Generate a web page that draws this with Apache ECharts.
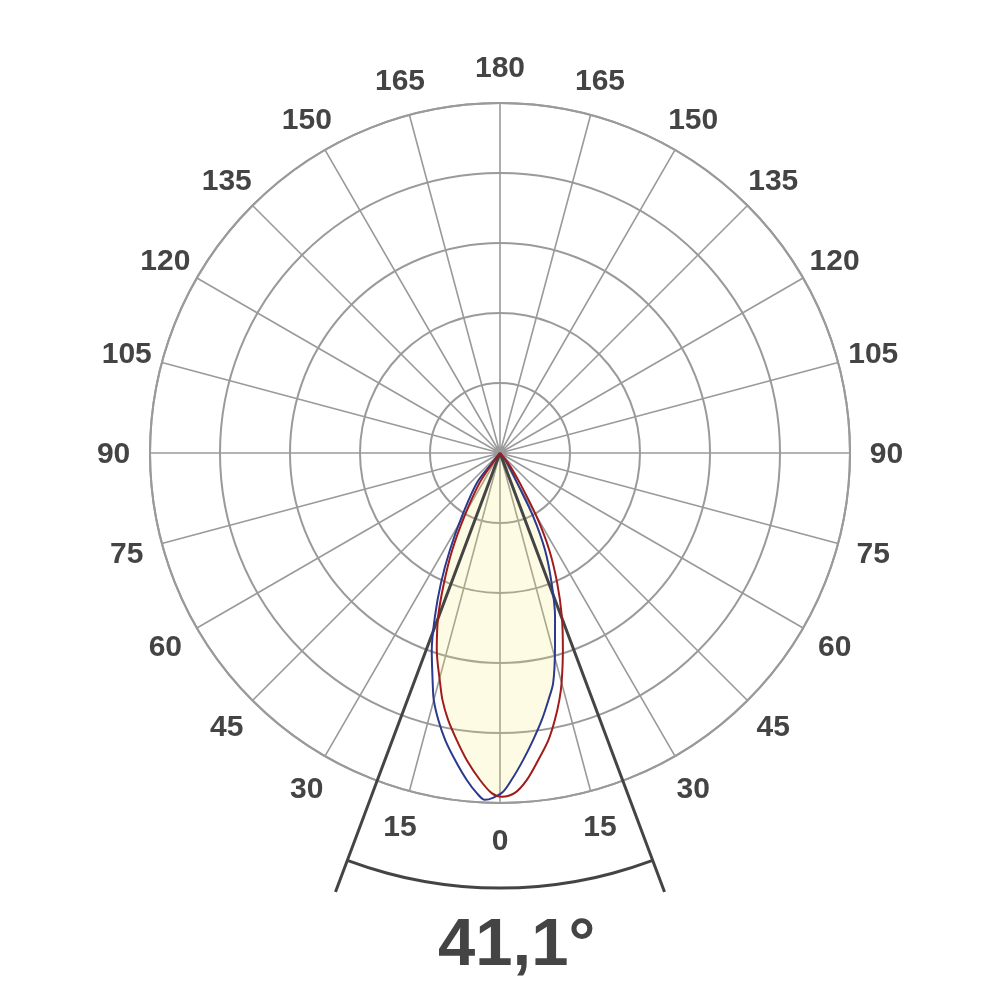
<!DOCTYPE html>
<html><head><meta charset="utf-8">
<script src="https://cdn.jsdelivr.net/npm/echarts@6/dist/echarts.min.js"></script>
<style>html,body{margin:0;padding:0;background:#fff}#c{width:1000px;height:1000px}</style>
</head><body><div id="c"></div>
<script>
// Angles: signed degrees from nadir, positive = left half. Values: relative intensity, 100 = outer ring.
const blueAngles = [-40,-35.3,-29.7,-27.6,-24.9,-21.6,-18.6,-15.6,-13.0,-11.1,-8.9,-6.6,-4.3,-2.0,-0.3,
                    2.5,3.9,5.8,8.3,10.8,13.0,15.0,16.3,19.1,21.7,24.4,27.3,31.0,37.6,38.9,42];
const blueValues = [0,3.6,10.0,20.5,30.5,40.1,49.3,58.4,67.5,71.9,77.2,82.5,88.0,93.5,97.1,
                    99.2,97.4,93.9,88.7,83.5,78.3,73.1,68.5,59.6,50.3,40.9,31.2,21.2,10.9,3.8,0];
const redAngles  = [-42,-38.9,-33.4,-29.9,-26.9,-23.7,-20.7,-17.7,-15.0,-13.5,-11.6,-9.6,-7.1,-4.7,-2.5,-0.3,
                    1.4,3.5,6.2,8.6,11.0,13.1,14.6,17.8,20.7,23.3,26.2,29.3,34.3,36.0,40];
const redValues  = [0,3.8,10.4,21.0,31.1,40.7,50.0,59.1,68.0,72.6,77.9,83.1,88.4,93.7,97.2,98.2,
                    97.2,93.6,88.2,82.9,77.7,72.5,67.9,59.1,50.0,40.5,30.9,20.9,10.5,3.5,0];
const crossAngle = 0, crossValue = 98.0;   // where the two curves cross at the bottom
const tickAngles = [0,15,30,45,60,75,90,105,120,135,150,165,180,195,210,225,240,255,270,285,300,315,330,345];
const tickLabels = ['0','15','30','45','60','75','90','105','120','135','150','165','180','165','150','135','120','105','90','75','60','45','30','15'];
const beamAngle = 41.1;
const beamText = '41,1°';
const half = beamAngle / 2;
const arcAngles = [-half,-15,-10,-5,0,5,10,15,half];
const arcRadius = 124.3, beamLineLen = 134, labelRadius = 110.4;

const toAng = a => (a + 360) % 360;
const pairs = (vals, angs) => vals.map((v, i) => [v, toAng(angs[i])]);
// filled area = inner envelope: blue on the right half, red on the left half
const fillData = []
  .concat(blueValues.map((v, i) => [v, blueAngles[i]]).filter(p => p[1] < -1))
  .concat([[crossValue, crossAngle]])
  .concat(redValues.map((v, i) => [v, redAngles[i]]).filter(p => p[1] > 1))
  .map(p => [p[0], toAng(p[1])]);

const chart = echarts.init(document.getElementById('c'), null, {renderer: 'canvas'});
const grid = '#9a9a9a';
const hiddenAxis = {axisLine: {show: false}, axisTick: {show: false}, axisLabel: {show: false}, splitLine: {show: false}};
chart.setOption({
  animation: false,
  backgroundColor: '#fff',
  title: {
    text: beamText, left: 438, top: 913, padding: 0,
    textStyle: {fontSize: 67, fontWeight: 'bold', fontFamily: 'Liberation Sans', color: '#444'}
  },
  polar: [{center: [500, 453], radius: 350}, {center: [500, 453], radius: 469}],
  angleAxis: [{
    polarIndex: 0, type: 'value', min: 0, max: 360, interval: 15, startAngle: 270, clockwise: true,
    axisLine: {show: true, lineStyle: {color: grid, width: 2}},
    axisTick: {show: false}, axisLabel: {show: false},
    splitLine: {show: true, lineStyle: {color: grid, width: 1.6}}
  }, Object.assign({polarIndex: 1, type: 'value', min: 0, max: 360, interval: 15, startAngle: 270, clockwise: true}, hiddenAxis)],
  radiusAxis: [{
    polarIndex: 0, type: 'value', min: 0, max: 100, interval: 20,
    axisLine: {show: false}, axisTick: {show: false}, axisLabel: {show: false},
    splitLine: {show: true, lineStyle: {color: grid, width: 2}}
  }, Object.assign({polarIndex: 1, type: 'value', min: 0, max: beamLineLen}, hiddenAxis)],
  series: [
    {type: 'line', coordinateSystem: 'polar', polarIndex: 1, showSymbol: false, silent: true,
     lineStyle: {color: '#444', width: 3}, data: [[0, toAng(half)], [beamLineLen, toAng(half)]]},
    {type: 'line', coordinateSystem: 'polar', polarIndex: 1, showSymbol: false, silent: true,
     lineStyle: {color: '#444', width: 3}, data: [[0, toAng(-half)], [beamLineLen, toAng(-half)]]},
    {type: 'line', coordinateSystem: 'polar', polarIndex: 1, showSymbol: false, silent: true, smooth: true,
     lineStyle: {color: '#444', width: 3}, data: arcAngles.map(a => [arcRadius, toAng(a)])},
    {type: 'line', coordinateSystem: 'polar', showSymbol: false, silent: true, smooth: 0.3,
     lineStyle: {width: 0, opacity: 0}, areaStyle: {color: 'rgba(249,232,107,0.18)', opacity: 1},
     data: fillData},
    {type: 'line', coordinateSystem: 'polar', showSymbol: false, silent: true, smooth: 0.3,
     lineStyle: {color: '#2b3a8c', width: 2}, data: pairs(blueValues, blueAngles)},
    {type: 'line', coordinateSystem: 'polar', showSymbol: false, silent: true, smooth: 0.3,
     lineStyle: {color: '#a01c1c', width: 2}, data: pairs(redValues, redAngles)},
    {type: 'scatter', coordinateSystem: 'polar', clip: false, silent: true, symbolSize: 0,
     itemStyle: {color: '#444', opacity: 1},
     label: {show: true, position: 'inside', offset: [0, 2], fontSize: 30, fontWeight: 'bold', fontFamily: 'Liberation Sans',
             color: '#444', opacity: 1, textBorderWidth: 0,
             formatter: p => tickLabels[p.dataIndex]},
     data: tickAngles.map(a => [labelRadius, a])}
  ]
});
</script></body></html>
